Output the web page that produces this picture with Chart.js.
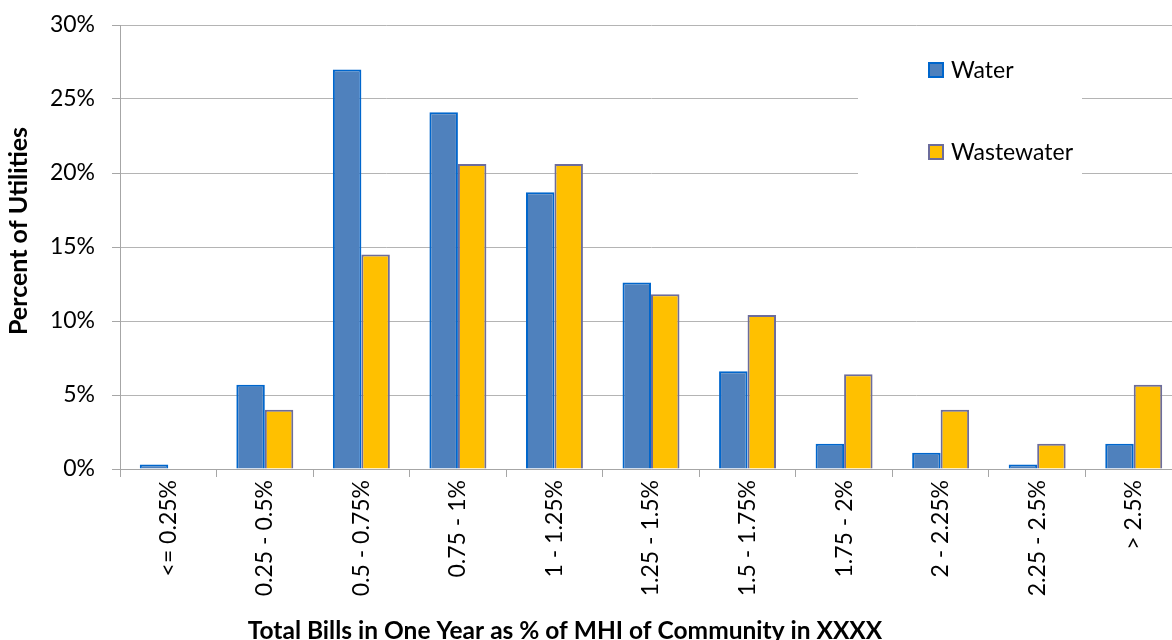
<!DOCTYPE html>
<html>
<head>
<meta charset="utf-8">
<script src="https://cdn.jsdelivr.net/npm/chart.js@4"></script>
<style>
  html, body { margin: 0; padding: 0; background: #fff; overflow: hidden; width: 1172px; height: 640px; }
  canvas { display: block; }
</style>
</head>
<body>
<canvas id="c" width="1200" height="640"></canvas>
<script>
const categories = ['<= 0.25%', '0.25 - 0.5%', '0.5 - 0.75%', '0.75 - 1%', '1 - 1.25%', '1.25 - 1.5%', '1.5 - 1.75%', '1.75 - 2%', '2 - 2.25%', '2.25 - 2.5%', '> 2.5%'];
const waterValues = [0.3, 5.7, 27.0, 24.1, 18.7, 12.6, 6.6, 1.7, 1.1, 0.3, 1.7];
const wastewaterValues = [0, 4.0, 14.5, 20.6, 20.6, 11.8, 10.4, 6.4, 4.0, 1.7, 5.7];
const seriesNames = ['Water', 'Wastewater'];
const yTicks = [0, 5, 10, 15, 20, 25, 30];
const xTitle = 'Total Bills in One Year as % of MHI of Community in XXXX';
const yTitle = 'Percent of Utilities';

const FONT = 'Lato, "Open Sans", sans-serif';
const colors = {
  waterFill: '#4F81BD', waterBorder: '#0066CC',
  wwFill: '#FFC000', wwBorder: '#6C6C9C',
  grid: '#B4B4B4', axis: '#A6A6A6'
};

const decorPlugin = {
  id: 'decor',
  afterDraw(chart) {
    const ctx = chart.ctx;
    ctx.save();
    // legend box
    ctx.fillStyle = '#fff';
    ctx.fillRect(858, 30, 224, 160);
    const items = [
      { name: seriesNames[0], fill: colors.waterFill, stroke: colors.waterBorder, y: 70 },
      { name: seriesNames[1], fill: colors.wwFill, stroke: colors.wwBorder, y: 152 }
    ];
    ctx.font = '23px ' + FONT;
    ctx.textBaseline = 'middle';
    ctx.textAlign = 'left';
    items.forEach(it => {
      ctx.fillStyle = it.fill;
      ctx.fillRect(929, it.y - 7, 14, 14);
      ctx.strokeStyle = it.stroke;
      ctx.lineWidth = 2;
      ctx.strokeRect(929, it.y - 7, 14, 14);
      ctx.fillStyle = '#000';
      ctx.fillText(it.name, 951, it.y + 1);
    });
    // axis titles
    ctx.fillStyle = '#000';
    ctx.textAlign = 'center';
    ctx.textBaseline = 'alphabetic';
    ctx.font = 'bold 24.5px ' + FONT;
    ctx.fillText(xTitle, 565, 639);
    ctx.font = 'bold 25px ' + FONT;
    ctx.translate(27, 231);
    ctx.rotate(-Math.PI / 2);
    ctx.fillText(yTitle, 0, 0);
    ctx.restore();
  }
};

new Chart(document.getElementById('c'), {
  type: 'bar',
  data: {
    labels: categories,
    datasets: [
      { label: seriesNames[0], data: waterValues, backgroundColor: colors.waterFill, borderColor: colors.waterBorder, borderWidth: 2 },
      { label: seriesNames[1], data: wastewaterValues, backgroundColor: colors.wwFill, borderColor: colors.wwBorder, borderWidth: 2 }
    ]
  },
  options: {
    responsive: false,
    animation: false,
    devicePixelRatio: 1,
    layout: { padding: { left: 0, right: 18, top: 25, bottom: 0 } },
    datasets: { bar: { categoryPercentage: 0.59, barPercentage: 1.0 } },
    plugins: { legend: { display: false }, tooltip: { enabled: false } },
    scales: {
      x: {
        afterFit(scale) { scale.height = 171; },
        grid: { offset: true, drawOnChartArea: false, drawTicks: true, tickLength: 8, color: colors.axis },
        border: { color: colors.axis, width: 1 },
        ticks: { minRotation: 90, maxRotation: 90, padding: 3, color: '#000', font: { family: FONT, size: 23 }, autoSkip: false }
      },
      y: {
        min: 0, max: 30,
        afterFit(scale) { scale.width = 120; scale.paddingTop = 10; scale.paddingBottom = 10; },
        afterBuildTicks(scale) { scale.ticks = yTicks.map(v => ({ value: v })); },
        grid: { color: colors.grid, tickLength: 8, drawTicks: true, tickColor: colors.axis },
        border: { color: colors.axis, width: 1 },
        ticks: { padding: 17, color: '#000', font: { family: FONT, size: 23 }, callback: v => v + '%' }
      }
    }
  },
  plugins: [decorPlugin]
});
</script>
</body>
</html>
